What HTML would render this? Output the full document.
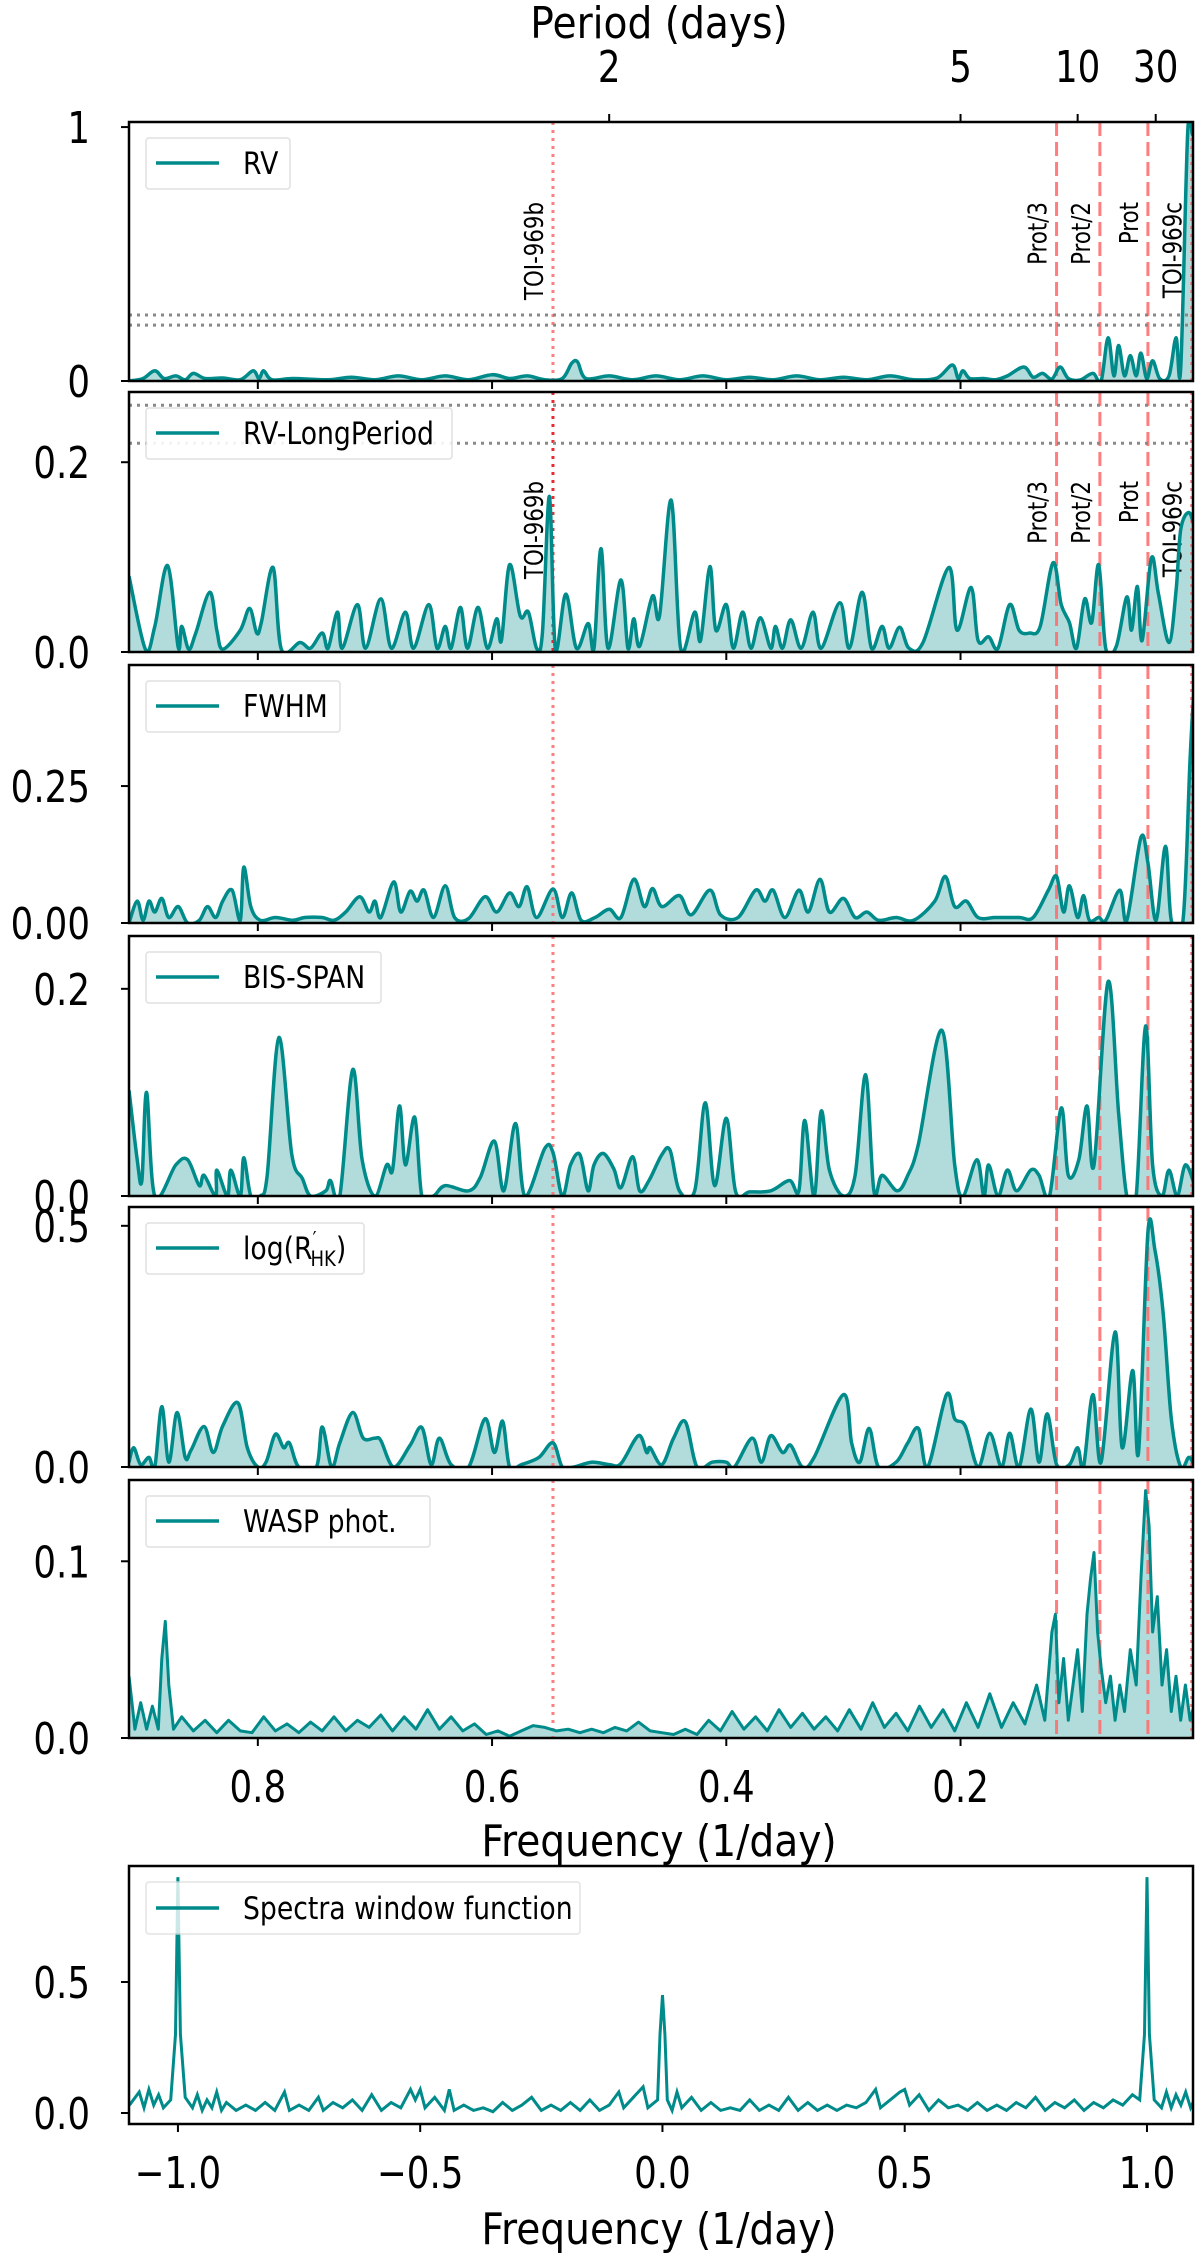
<!DOCTYPE html>
<html><head><meta charset="utf-8"><style>
html,body{margin:0;padding:0;background:#fff;}
svg{display:block;font-family:"DejaVu Sans","Liberation Sans",sans-serif;}
</style></head><body>
<svg id="fig" width="1200" height="2257" viewBox="0 0 1200 2257" xmlns="http://www.w3.org/2000/svg"></svg>
<script>
// ---- data ----
const rvFreq=[0.910,0.898,0.888,0.880,0.870,0.862,0.855,0.845,0.830,0.815,0.804,0.799,0.795,0.788,0.770,0.740,0.720,0.700,0.680,0.660,0.640,0.620,0.600,0.585,0.570,0.555,0.540,0.532,0.527,0.520,0.500,0.480,0.460,0.440,0.420,0.400,0.380,0.360,0.340,0.320,0.300,0.280,0.260,0.240,0.220,0.207,0.202,0.198,0.192,0.180,0.170,0.160,0.146,0.138,0.130,0.122,0.115,0.108,0.098,0.087,0.080,0.074,0.069,0.065,0.060,0.055,0.050,0.046,0.041,0.036,0.030,0.022,0.016,0.012,0.006,0.002];
const rvPow=[0.0,0.01,0.04,0.01,0.02,0.005,0.03,0.01,0.012,0.005,0.04,0.01,0.04,0.005,0.01,0.005,0.015,0.005,0.02,0.005,0.02,0.005,0.025,0.01,0.02,0.005,0.01,0.07,0.075,0.01,0.02,0.005,0.02,0.005,0.02,0.005,0.015,0.005,0.02,0.005,0.015,0.005,0.02,0.005,0.012,0.063,0.01,0.04,0.01,0.01,0.005,0.02,0.055,0.015,0.03,0.008,0.055,0.01,0.004,0.03,0.0,0.17,0.02,0.14,0.02,0.10,0.02,0.11,0.01,0.08,0.01,0.02,0.17,0.05,0.98,0.97];

const lpFreq=[0.910,0.896,0.888,0.877,0.868,0.865,0.859,0.853,0.841,0.835,0.830,0.815,0.807,0.801,0.797,0.787,0.780,0.764,0.755,0.745,0.740,0.732,0.728,0.715,0.708,0.695,0.686,0.674,0.667,0.654,0.647,0.640,0.635,0.627,0.621,0.612,0.604,0.596,0.592,0.585,0.576,0.569,0.562,0.557,0.551,0.546,0.537,0.528,0.518,0.513,0.507,0.501,0.490,0.484,0.479,0.474,0.463,0.457,0.447,0.439,0.427,0.422,0.414,0.409,0.400,0.394,0.386,0.379,0.371,0.362,0.358,0.352,0.345,0.336,0.326,0.319,0.303,0.295,0.284,0.276,0.267,0.261,0.252,0.244,0.232,0.210,0.203,0.191,0.185,0.176,0.168,0.158,0.150,0.141,0.132,0.121,0.114,0.107,0.101,0.094,0.088,0.082,0.076,0.067,0.058,0.054,0.049,0.045,0.037,0.031,0.022,0.016,0.012,0.005,0.0];
const lpPow=[0.080,0.003,0.027,0.091,0.005,0.027,0.003,0.02,0.063,0.023,0.003,0.023,0.046,0.02,0.031,0.089,0.003,0.01,0.004,0.02,0.004,0.042,0.004,0.050,0.004,0.056,0.004,0.042,0.004,0.050,0.004,0.027,0.004,0.047,0.004,0.047,0.004,0.035,0.012,0.092,0.038,0.042,0.004,0.02,0.164,0.004,0.061,0.004,0.03,0.004,0.109,0.004,0.076,0.004,0.035,0.006,0.059,0.038,0.160,0.004,0.042,0.012,0.090,0.023,0.050,0.004,0.042,0.004,0.036,0.004,0.027,0.004,0.034,0.004,0.042,0.004,0.052,0.004,0.063,0.004,0.027,0.004,0.026,0.004,0.01,0.089,0.023,0.068,0.012,0.016,0.004,0.05,0.023,0.02,0.027,0.094,0.05,0.031,0.004,0.056,0.031,0.092,0.004,0.006,0.058,0.023,0.069,0.012,0.099,0.061,0.01,0.064,0.129,0.147,0.13];

const fwFreq=[0.910,0.903,0.898,0.893,0.888,0.882,0.876,0.868,0.860,0.850,0.843,0.836,0.830,0.822,0.815,0.812,0.806,0.798,0.785,0.770,0.760,0.745,0.735,0.725,0.713,0.705,0.700,0.695,0.684,0.678,0.670,0.664,0.658,0.650,0.640,0.632,0.620,0.606,0.596,0.585,0.577,0.570,0.562,0.548,0.540,0.532,0.524,0.512,0.500,0.490,0.479,0.470,0.463,0.455,0.440,0.430,0.414,0.405,0.390,0.375,0.367,0.360,0.350,0.338,0.330,0.320,0.312,0.300,0.290,0.280,0.270,0.255,0.240,0.222,0.213,0.205,0.195,0.185,0.170,0.150,0.138,0.125,0.118,0.112,0.107,0.100,0.095,0.090,0.082,0.076,0.064,0.058,0.046,0.040,0.033,0.025,0.020,0.010,0.004,0.0];
const fwPow=[0.0,0.04,0.005,0.04,0.02,0.045,0.01,0.03,0.0,0.005,0.03,0.01,0.04,0.06,0.005,0.102,0.03,0.005,0.01,0.005,0.01,0.01,0.005,0.02,0.048,0.02,0.04,0.01,0.075,0.02,0.058,0.04,0.06,0.01,0.068,0.01,0.008,0.048,0.02,0.055,0.03,0.066,0.01,0.062,0.01,0.055,0.005,0.01,0.025,0.01,0.08,0.03,0.063,0.03,0.05,0.015,0.06,0.015,0.01,0.06,0.04,0.06,0.01,0.06,0.02,0.08,0.02,0.045,0.01,0.02,0.005,0.01,0.005,0.04,0.085,0.03,0.04,0.01,0.01,0.01,0.01,0.06,0.085,0.02,0.068,0.01,0.05,0.005,0.01,0.005,0.06,0.005,0.156,0.11,0.005,0.14,0.005,0.005,0.3,0.45];

const bsFreq=[0.910,0.903,0.899,0.895,0.888,0.870,0.860,0.850,0.846,0.836,0.835,0.826,0.823,0.815,0.812,0.806,0.798,0.792,0.782,0.771,0.762,0.755,0.742,0.738,0.730,0.719,0.711,0.700,0.690,0.685,0.679,0.674,0.666,0.660,0.650,0.640,0.620,0.610,0.598,0.590,0.580,0.572,0.555,0.548,0.540,0.533,0.525,0.518,0.513,0.505,0.496,0.490,0.480,0.474,0.466,0.455,0.448,0.440,0.427,0.418,0.410,0.400,0.392,0.380,0.362,0.346,0.338,0.333,0.325,0.319,0.312,0.300,0.290,0.281,0.274,0.267,0.254,0.245,0.236,0.216,0.205,0.198,0.186,0.180,0.176,0.168,0.160,0.152,0.140,0.133,0.124,0.114,0.108,0.099,0.092,0.086,0.074,0.065,0.058,0.050,0.042,0.036,0.028,0.022,0.015,0.008,0.0];
const bsPow=[0.102,0.035,0.015,0.1,0.0,0.03,0.035,0.01,0.02,0.0,0.025,0.0,0.025,0.0,0.037,0.0,0.0,0.02,0.153,0.04,0.017,0.0,0.005,0.015,0.0,0.122,0.035,0.0,0.03,0.025,0.087,0.03,0.076,0.0,0.0,0.01,0.005,0.018,0.053,0.005,0.07,0.0,0.046,0.042,0.0,0.03,0.04,0.005,0.03,0.041,0.026,0.008,0.038,0.005,0.015,0.04,0.044,0.005,0.005,0.09,0.01,0.075,0.004,0.004,0.005,0.015,0.005,0.073,0.0,0.082,0.025,0.0,0.02,0.117,0.005,0.02,0.005,0.02,0.05,0.16,0.03,0.0,0.035,0.0,0.03,0.0,0.025,0.005,0.025,0.02,0.0,0.085,0.02,0.035,0.087,0.03,0.207,0.08,0.0,0.0,0.164,0.03,0.0,0.025,0.0,0.03,0.01];

const hkFreq=[0.910,0.906,0.900,0.893,0.888,0.882,0.876,0.869,0.862,0.857,0.846,0.838,0.830,0.817,0.809,0.800,0.793,0.785,0.778,0.773,0.765,0.750,0.745,0.737,0.730,0.719,0.710,0.700,0.695,0.684,0.670,0.660,0.652,0.645,0.635,0.620,0.606,0.598,0.591,0.585,0.575,0.560,0.548,0.540,0.530,0.515,0.500,0.490,0.475,0.468,0.465,0.455,0.445,0.435,0.425,0.412,0.400,0.393,0.378,0.370,0.362,0.352,0.345,0.335,0.325,0.300,0.293,0.286,0.278,0.270,0.255,0.245,0.236,0.228,0.212,0.205,0.196,0.185,0.175,0.165,0.158,0.150,0.140,0.133,0.126,0.118,0.107,0.100,0.095,0.087,0.080,0.068,0.062,0.053,0.048,0.040,0.034,0.027,0.020,0.012,0.005,0.0];
const hkPow=[0.01,0.04,0.005,0.02,0.0,0.125,0.01,0.113,0.02,0.035,0.084,0.03,0.085,0.133,0.04,0.0,0.01,0.068,0.04,0.05,0.0,0.0,0.083,0.0,0.05,0.113,0.06,0.06,0.055,0.0,0.045,0.082,0.005,0.06,0.005,0.0,0.1,0.03,0.095,0.0,0.005,0.02,0.05,0.0,0.0,0.01,0.005,0.007,0.065,0.03,0.04,0.005,0.06,0.094,0.0,0.01,0.01,0.0,0.06,0.01,0.065,0.03,0.045,0.0,0.02,0.15,0.05,0.01,0.08,0.0,0.01,0.05,0.08,0.0,0.15,0.1,0.085,0.0,0.07,0.0,0.07,0.0,0.12,0.01,0.11,0.005,0.005,0.04,0.0,0.15,0.01,0.28,0.04,0.2,0.03,0.486,0.45,0.32,0.1,0.0,0.02,0.0];

const wpFreq=[0.910,0.905,0.900,0.895,0.890,0.885,0.882,0.879,0.876,0.872,0.865,0.855,0.845,0.835,0.825,0.815,0.805,0.795,0.785,0.775,0.765,0.755,0.745,0.735,0.725,0.715,0.705,0.695,0.685,0.675,0.665,0.655,0.645,0.635,0.625,0.615,0.605,0.595,0.585,0.575,0.565,0.555,0.545,0.535,0.525,0.515,0.505,0.495,0.485,0.475,0.465,0.455,0.445,0.435,0.425,0.415,0.405,0.395,0.385,0.375,0.365,0.355,0.345,0.335,0.325,0.315,0.305,0.295,0.285,0.275,0.265,0.255,0.245,0.235,0.225,0.215,0.205,0.195,0.185,0.175,0.165,0.155,0.145,0.135,0.128,0.122,0.119,0.116,0.112,0.108,0.104,0.100,0.096,0.092,0.089,0.086,0.083,0.080,0.076,0.072,0.068,0.064,0.060,0.055,0.050,0.046,0.042,0.039,0.036,0.032,0.028,0.024,0.020,0.016,0.012,0.008,0.004,0.0];
const wpPow=[0.035,0.005,0.02,0.005,0.018,0.005,0.045,0.066,0.03,0.005,0.012,0.004,0.01,0.003,0.01,0.004,0.003,0.012,0.004,0.008,0.003,0.009,0.004,0.012,0.004,0.01,0.006,0.013,0.004,0.012,0.005,0.016,0.005,0.012,0.004,0.008,0.002,0.004,0.001,0.004,0.007,0.006,0.004,0.005,0.003,0.005,0.003,0.006,0.004,0.009,0.004,0.003,0.002,0.005,0.002,0.01,0.004,0.015,0.005,0.012,0.004,0.016,0.006,0.014,0.005,0.012,0.004,0.016,0.005,0.02,0.006,0.014,0.004,0.018,0.006,0.016,0.004,0.02,0.006,0.025,0.006,0.02,0.008,0.03,0.01,0.06,0.07,0.02,0.045,0.01,0.03,0.05,0.015,0.07,0.09,0.105,0.06,0.04,0.02,0.035,0.01,0.03,0.015,0.05,0.03,0.09,0.14,0.12,0.06,0.08,0.03,0.05,0.015,0.035,0.01,0.03,0.01,0.02];

const wfFreq=[-1.10,-1.08,-1.07,-1.06,-1.05,-1.04,-1.03,-1.015,-1.005,-1.0,-0.995,-0.985,-0.97,-0.96,-0.95,-0.94,-0.93,-0.92,-0.91,-0.90,-0.88,-0.86,-0.84,-0.82,-0.80,-0.78,-0.77,-0.75,-0.73,-0.71,-0.70,-0.68,-0.66,-0.64,-0.62,-0.60,-0.58,-0.56,-0.54,-0.52,-0.51,-0.50,-0.49,-0.47,-0.45,-0.44,-0.43,-0.41,-0.39,-0.37,-0.35,-0.33,-0.31,-0.29,-0.27,-0.25,-0.23,-0.21,-0.19,-0.17,-0.15,-0.13,-0.11,-0.09,-0.08,-0.06,-0.04,-0.03,-0.01,-0.005,0.0,0.005,0.01,0.02,0.03,0.04,0.06,0.08,0.10,0.12,0.14,0.16,0.18,0.20,0.22,0.24,0.26,0.28,0.30,0.32,0.34,0.36,0.38,0.40,0.42,0.44,0.45,0.47,0.49,0.50,0.51,0.53,0.55,0.57,0.59,0.61,0.63,0.65,0.67,0.69,0.71,0.73,0.75,0.77,0.79,0.81,0.83,0.85,0.87,0.89,0.91,0.93,0.95,0.97,0.985,0.995,1.0,1.005,1.015,1.03,1.04,1.05,1.06,1.07,1.08,1.09,1.10];
const wfPow=[0.03,0.08,0.02,0.09,0.03,0.07,0.02,0.05,0.3,0.90,0.3,0.06,0.02,0.07,0.01,0.05,0.02,0.08,0.01,0.04,0.01,0.03,0.01,0.04,0.01,0.08,0.01,0.03,0.01,0.06,0.01,0.04,0.02,0.05,0.01,0.07,0.01,0.04,0.02,0.09,0.05,0.09,0.02,0.06,0.01,0.09,0.01,0.03,0.01,0.02,0.005,0.04,0.01,0.03,0.06,0.01,0.03,0.01,0.04,0.01,0.05,0.01,0.03,0.08,0.02,0.06,0.10,0.02,0.05,0.3,0.45,0.3,0.05,0.01,0.08,0.02,0.06,0.01,0.04,0.01,0.02,0.01,0.05,0.01,0.03,0.01,0.06,0.01,0.04,0.01,0.03,0.01,0.03,0.02,0.04,0.09,0.02,0.05,0.08,0.09,0.03,0.07,0.01,0.05,0.02,0.03,0.01,0.04,0.01,0.03,0.01,0.04,0.02,0.06,0.01,0.04,0.02,0.05,0.01,0.04,0.02,0.05,0.03,0.07,0.05,0.3,0.90,0.3,0.05,0.02,0.08,0.02,0.07,0.03,0.08,0.02,0.06];

const freqTicks=[0.8,0.6,0.4,0.2];
const freqTickLabels=["0.8","0.6","0.4","0.2"];
const periodTicks=[2,5,10,30];
const wfTicks=[-1.0,-0.5,0.0,0.5,1.0];
const wfTickLabels=["\u22121.0","\u22120.5","0.0","0.5","1.0"];
const markerFreqs=[0.548,0.118,0.081,0.040,0.0026];
const fapLevels=[0.26,0.22];

// ---- layout ----
const NS="http://www.w3.org/2000/svg";
const svg=document.getElementById('fig');
const X0=129,X1=1193;
const fMin=0.910,fMax=0.0015;
function xF(f){return X0+(f-fMin)/(fMax-fMin)*(X1-X0);}
const TEAL="#008b8b";
function mk(tag,attrs,parent){const e=document.createElementNS(NS,tag);for(const k in attrs)e.setAttribute(k,attrs[k]);(parent||svg).appendChild(e);return e;}
// scaled (condensed) text
function T(s,x,y,size,sx,anchor,parent){
  const e=mk('text',{x:0,y:0,'font-size':size,'text-anchor':anchor||'start',transform:'translate('+x+','+y+') scale('+sx+',1)'},parent);
  e.textContent=s;return e;
}
const TICK=44,TICKSX=0.81,TITLE=44,TITLESX=0.89,LEG=31,LEGSX=0.86;

const panels=[
 {name:'rv',label:'RV',fr:rvFreq,pw:rvPow,top:122,bot:381,yMin:0,yMax:1.02,ticks:[0,1],tl:["0","1"],legW:144,smooth:true},
 {name:'rv-longperiod',label:'RV-LongPeriod',fr:lpFreq,pw:lpPow,top:392,bot:652,yMin:0,yMax:0.274,ticks:[0,0.2],tl:["0.0","0.2"],legW:306,smooth:true},
 {name:'fwhm',label:'FWHM',fr:fwFreq,pw:fwPow,top:665,bot:923,yMin:0,yMax:0.471,ticks:[0,0.25],tl:["0.00","0.25"],legW:194,smooth:true},
 {name:'bis-span',label:'BIS-SPAN',fr:bsFreq,pw:bsPow,top:936,bot:1196,yMin:0,yMax:0.251,ticks:[0,0.2],tl:["0.0","0.2"],legW:235,smooth:true},
 {name:'log-rhk',label:'log(R',fr:hkFreq,pw:hkPow,top:1207,bot:1467,yMin:0,yMax:0.539,ticks:[0,0.5],tl:["0.0","0.5"],legW:218,smooth:true},
 {name:'wasp-phot',label:'WASP phot.',fr:wpFreq,pw:wpPow,top:1480,bot:1738,yMin:0,yMax:0.146,ticks:[0,0.1],tl:["0.0","0.1"],legW:284,smooth:false}
];

function smoothPath(pts){
  let d='M'+pts[0][0].toFixed(1)+','+pts[0][1].toFixed(1);
  for(let i=0;i<pts.length-1;i++){
    const p0=pts[i-1]||pts[i],p1=pts[i],p2=pts[i+1],p3=pts[i+2]||p2;
    let c1=[p1[0]+(p2[0]-p0[0])/6,p1[1]+(p2[1]-p0[1])/6];
    let c2=[p2[0]-(p3[0]-p1[0])/6,p2[1]-(p3[1]-p1[1])/6];
    d+='C'+c1[0].toFixed(1)+','+c1[1].toFixed(1)+' '+c2[0].toFixed(1)+','+c2[1].toFixed(1)+' '+p2[0].toFixed(1)+','+p2[1].toFixed(1);
  }
  return d;
}
function linePath(pts){return 'M'+pts.map(p=>p[0].toFixed(1)+','+p[1].toFixed(1)).join('L');}

const defs=mk('defs',{});

panels.forEach((P,pi)=>{
  const g=mk('g',{});
  
  
  const yS=v=>P.bot-(v-P.yMin)/(P.yMax-P.yMin)*(P.bot-P.top);
  const cp=mk('clipPath',{id:'clip'+pi},defs);
  mk('rect',{x:X0,y:P.top,width:X1-X0,height:P.bot-P.top},cp);
  const pts=P.fr.map((f,i)=>[xF(f),yS(P.pw[i])]);
  const d=P.smooth?smoothPath(pts):linePath(pts);
  const area=mk('path',{d:d+'L'+pts[pts.length-1][0].toFixed(1)+','+yS(0)+'L'+pts[0][0].toFixed(1)+','+yS(0)+'Z',fill:'rgba(0,139,139,0.3)',stroke:'none','clip-path':'url(#clip'+pi+')'},g);
  
  
  markerFreqs.forEach((f,i)=>{
    const x=xF(f);
    let attrs;
    if(i===0||i===4){attrs={stroke:(pi===1&&i===0)?'#e8141e':'#ff7070','stroke-width':3,'stroke-dasharray':'3,5'};}
    else attrs={stroke:'#ff6f6f','stroke-width':3,'stroke-dasharray':'14,6'};
    const l=mk('line',Object.assign({x1:x,x2:x,y1:P.top,y2:P.bot,'opacity':0.9},attrs),g);
    
    
  });
  if(pi<2){
    fapLevels.forEach((v,i)=>{
      const y=yS(v);
      const l=mk('line',{x1:X0,x2:X1,y1:y,y2:y,stroke:'#888','stroke-width':3,'stroke-dasharray':'3,5'},g);
      
      
    });
    const topY=pi===0?202:481;
    const labs=[['TOI-969b',0],['Prot/3',1],['Prot/2',2],['Prot',3],['TOI-969c',4]];
    labs.forEach(([s,i])=>{
      const x=xF(markerFreqs[i])-10;
      const t=mk('text',{x:0,y:0,'font-size':26,'text-anchor':'end',transform:'translate('+x+','+topY+') rotate(-90) scale(0.82,1)',fill:'#000'},g);
      t.textContent=s;
      
      
    });
  }
  const line=mk('path',{d:d,fill:'none',stroke:TEAL,'stroke-width':P.smooth?3.5:3,'stroke-linejoin':'round','clip-path':'url(#clip'+pi+')'},g);
  
  
  const fr=mk('rect',{x:X0,y:P.top,width:X1-X0,height:P.bot-P.top,fill:'none',stroke:'#000','stroke-width':2.5},g);
  
  
  P.ticks.forEach((v,i)=>{
    const y=yS(v);
    mk('line',{x1:X0-8,x2:X0,y1:y,y2:y,stroke:'#000','stroke-width':2},g);
    const t=T(P.tl[i],X0-39,y+16,TICK,TICKSX,'end',g);
    
    
  });
  freqTicks.forEach(f=>{mk('line',{x1:xF(f),x2:xF(f),y1:P.bot,y2:P.bot+8,stroke:'#000','stroke-width':2},g);});
  const lg=mk('g',{},g);
  
  
  mk('rect',{x:146,y:P.top+16,width:P.legW,height:51,rx:3,fill:'#fff',stroke:'#ddd','stroke-width':1.5,opacity:0.9},lg);
  mk('line',{x1:156,x2:219,y1:P.top+41,y2:P.top+41,stroke:TEAL,'stroke-width':3.5},lg);
  const lt=T('',243,P.top+52,LEG,LEGSX,'start',lg);
  if(P.name==='log-rhk'){
    lt.textContent='log(R';
    const a=mk('tspan',{'font-size':20,dy:-13},lt);a.textContent='\u2032';
    const b=mk('tspan',{'font-size':21,dy:20,dx:-7},lt);b.textContent='HK';
    const c=mk('tspan',{dy:-7},lt);c.textContent=')';
  } else lt.textContent=P.label;
});

periodTicks.forEach(p=>{
  const x=xF(1/p);
  mk('line',{x1:x,x2:x,y1:122,y2:114,stroke:'#000','stroke-width':2});
  const t=T(String(p),x,82,TICK,TICKSX,'middle');
  
  
});
const pt=T('Period (days)',659,38,TITLE,TITLESX,'middle');



freqTicks.forEach((f,i)=>{
  const t=T(freqTickLabels[i],xF(f),1802,TICK,TICKSX,'middle');
  
  
});
const xt=T('Frequency (1/day)',659,1856,TITLE,TITLESX,'middle');



(function(){
  const top=1866,bot=2124,wx0=-1.101,wx1=1.095;
  const xW=v=>X0+(v-wx0)/(wx1-wx0)*(X1-X0);
  const yW=v=>2113-v*262;
  const g=mk('g',{});
  
  
  const cp=mk('clipPath',{id:'clipW'},defs);
  mk('rect',{x:X0,y:top,width:X1-X0,height:bot-top},cp);
  const pts=wfFreq.map((f,i)=>[xW(f),yW(wfPow[i])]);
  const l=mk('path',{d:linePath(pts),fill:'none',stroke:TEAL,'stroke-width':3,'clip-path':'url(#clipW)'},g);
  
  
  mk('rect',{x:X0,y:top,width:X1-X0,height:bot-top,fill:'none',stroke:'#000','stroke-width':2.5},g);
  [[0,"0.0"],[0.5,"0.5"]].forEach(([v,s])=>{
    mk('line',{x1:X0-8,x2:X0,y1:yW(v),y2:yW(v),stroke:'#000','stroke-width':2},g);
    const t=T(s,X0-39,yW(v)+16,TICK,TICKSX,'end',g);
    
    
  });
  wfTicks.forEach((v,i)=>{
    mk('line',{x1:xW(v),x2:xW(v),y1:bot,y2:bot+8,stroke:'#000','stroke-width':2},g);
    const t=T(wfTickLabels[i],xW(v),2188,TICK,TICKSX,'middle',g);
    
    
  });
  const lg=mk('g',{},g);
  
  
  mk('rect',{x:146,y:1882,width:434,height:52,rx:3,fill:'#fff',stroke:'#ddd','stroke-width':1.5,opacity:0.8},lg);
  mk('line',{x1:156,x2:219,y1:1908,y2:1908,stroke:TEAL,'stroke-width':3.5},lg);
  T('Spectra window function',243,1919,LEG,LEGSX,'start',lg);
  const t=T('Frequency (1/day)',659,2244,TITLE,TITLESX,'middle',g);
  
  
})();
</script>
</body></html>
